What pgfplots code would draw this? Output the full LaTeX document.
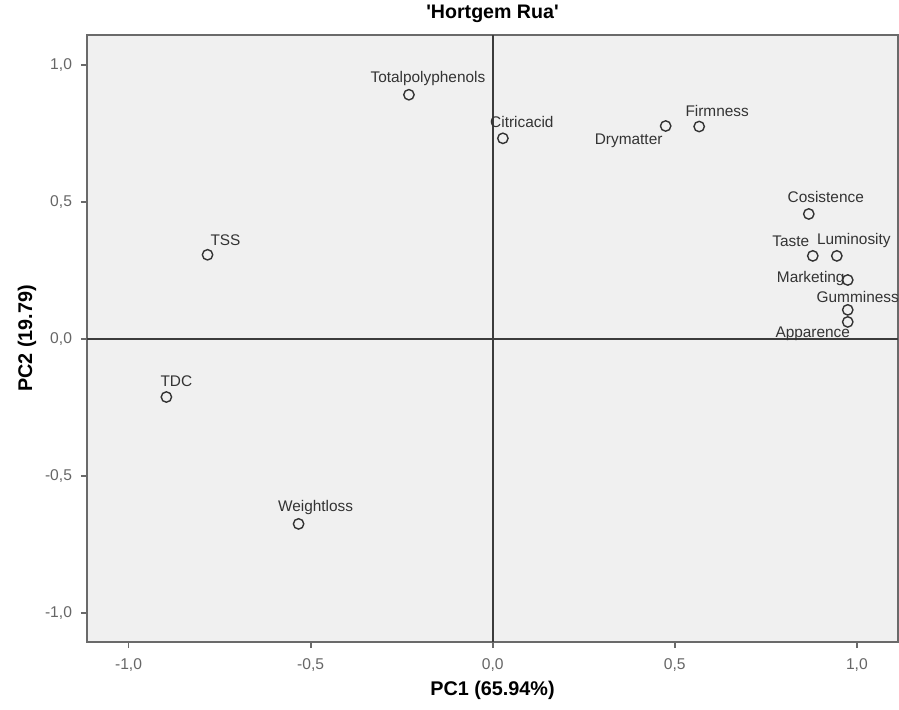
\documentclass[border=0pt]{standalone}
\usepackage{pgfplots}
\pgfplotsset{compat=1.18}
\usepackage{fontspec}
\setmainfont{Liberation Sans}[Ligatures=TeXOff]
\definecolor{panel}{HTML}{F0F0F0}
\definecolor{frame}{HTML}{6A6A6A}
\definecolor{ticktext}{HTML}{666666}
\definecolor{lbltext}{HTML}{333333}
\definecolor{zeroline}{HTML}{3C3C3C}
\begin{document}
\begin{tikzpicture}
\useasboundingbox (-43.5pt,-33.5pt) rectangle (406pt,321pt);
\begin{axis}[
  scale only axis,
  width=405.5pt, height=303.5pt,
  xmin=-1.114, xmax=1.113,
  ymin=-1.106, ymax=1.109,
  axis background/.style={fill=panel},
  axis line style={frame, line width=0.9pt},
  xtick={-1,-0.5,0,0.5,1},
  ytick={-1,-0.5,0,0.5,1},
  tick align=outside,
  tick pos=left,
  major tick length=3pt,
  tick style={frame, line width=0.9pt},
  /pgf/number format/assume math mode=true,
  /pgf/number format/.cd, use comma, fixed, fixed zerofill, precision=1,
  /pgfplots/.cd,
  tick label style={font=\fontsize{7.8}{9}\selectfont, text=ticktext},
  xticklabel style={yshift=-2pt},
  yticklabel style={xshift=-1pt},
  xlabel={\textbf{PC1 (65.94\%)}},
  ylabel={\textbf{PC2 (19.79)}},
  label style={font=\fontsize{9.9}{11}\selectfont},
  xlabel style={at={(axis description cs:0.5,0)}, anchor=center, yshift=-24pt},
  ylabel style={at={(axis description cs:0,0.5)}, anchor=center, xshift=0pt, yshift=30pt},
  title={\textbf{'Hortgem Rua'}},
  title style={font=\fontsize{9.8}{11}\selectfont, at={(axis description cs:0.5,1)}, anchor=center, yshift=4.5pt},
  clip=false,
]
% reference lines through the origin
\draw[zeroline, line width=1.1pt] (axis cs:0,-1.106) -- (axis cs:0,1.109);
\draw[zeroline, line width=1.1pt] (axis cs:-1.114,0) -- (axis cs:1.113,0);

% component loadings
\addplot[only marks, mark=o, mark size=2.6pt, mark options={draw=black!80, line width=0.7pt}]
  table {
x      y
-0.230 0.891
0.028  0.732
0.475  0.777
0.567  0.775
0.868  0.456
0.879  0.303
0.945  0.303
0.975  0.215
0.975  0.106
0.975  0.062
-0.783 0.307
-0.896 -0.212
-0.533 -0.675
};

\tikzset{lbl/.style={font=\fontsize{7.7}{9}\selectfont, text=lbltext, inner sep=0pt, anchor=center}}
\node[lbl] at ([shift={(9.5pt,8pt)}]axis cs:-0.230,0.891) {Totalpolyphenols};
\node[lbl] at ([shift={(9.5pt,8pt)}]axis cs:0.028,0.732) {Citricacid};
\node[lbl] at ([shift={(-18.5pt,-7.5pt)}]axis cs:0.475,0.777) {Drymatter};
\node[lbl] at ([shift={(9pt,8pt)}]axis cs:0.567,0.775) {Firmness};
\node[lbl] at ([shift={(8.5pt,8.5pt)}]axis cs:0.868,0.456) {Cosistence};
\node[lbl] at ([shift={(-11pt,7.5pt)}]axis cs:0.879,0.303) {Taste};
\node[lbl] at ([shift={(8.5pt,7.5pt)}]axis cs:0.945,0.303) {Luminosity};
\node[lbl] at ([shift={(-18.5pt,0.5pt)}]axis cs:0.975,0.215) {Marketing};
\node[lbl] at ([shift={(5pt,6.5pt)}]axis cs:0.975,0.106) {Gumminess};
\node[lbl] at ([shift={(-17.5pt,-6pt)}]axis cs:0.975,0.062) {Apparence};
\node[lbl] at ([shift={(9pt,7.5pt)}]axis cs:-0.783,0.307) {TSS};
\node[lbl] at ([shift={(5pt,8pt)}]axis cs:-0.896,-0.212) {TDC};
\node[lbl] at ([shift={(8.5pt,8pt)}]axis cs:-0.533,-0.675) {Weightloss};
\end{axis}
\end{tikzpicture}
\end{document}
